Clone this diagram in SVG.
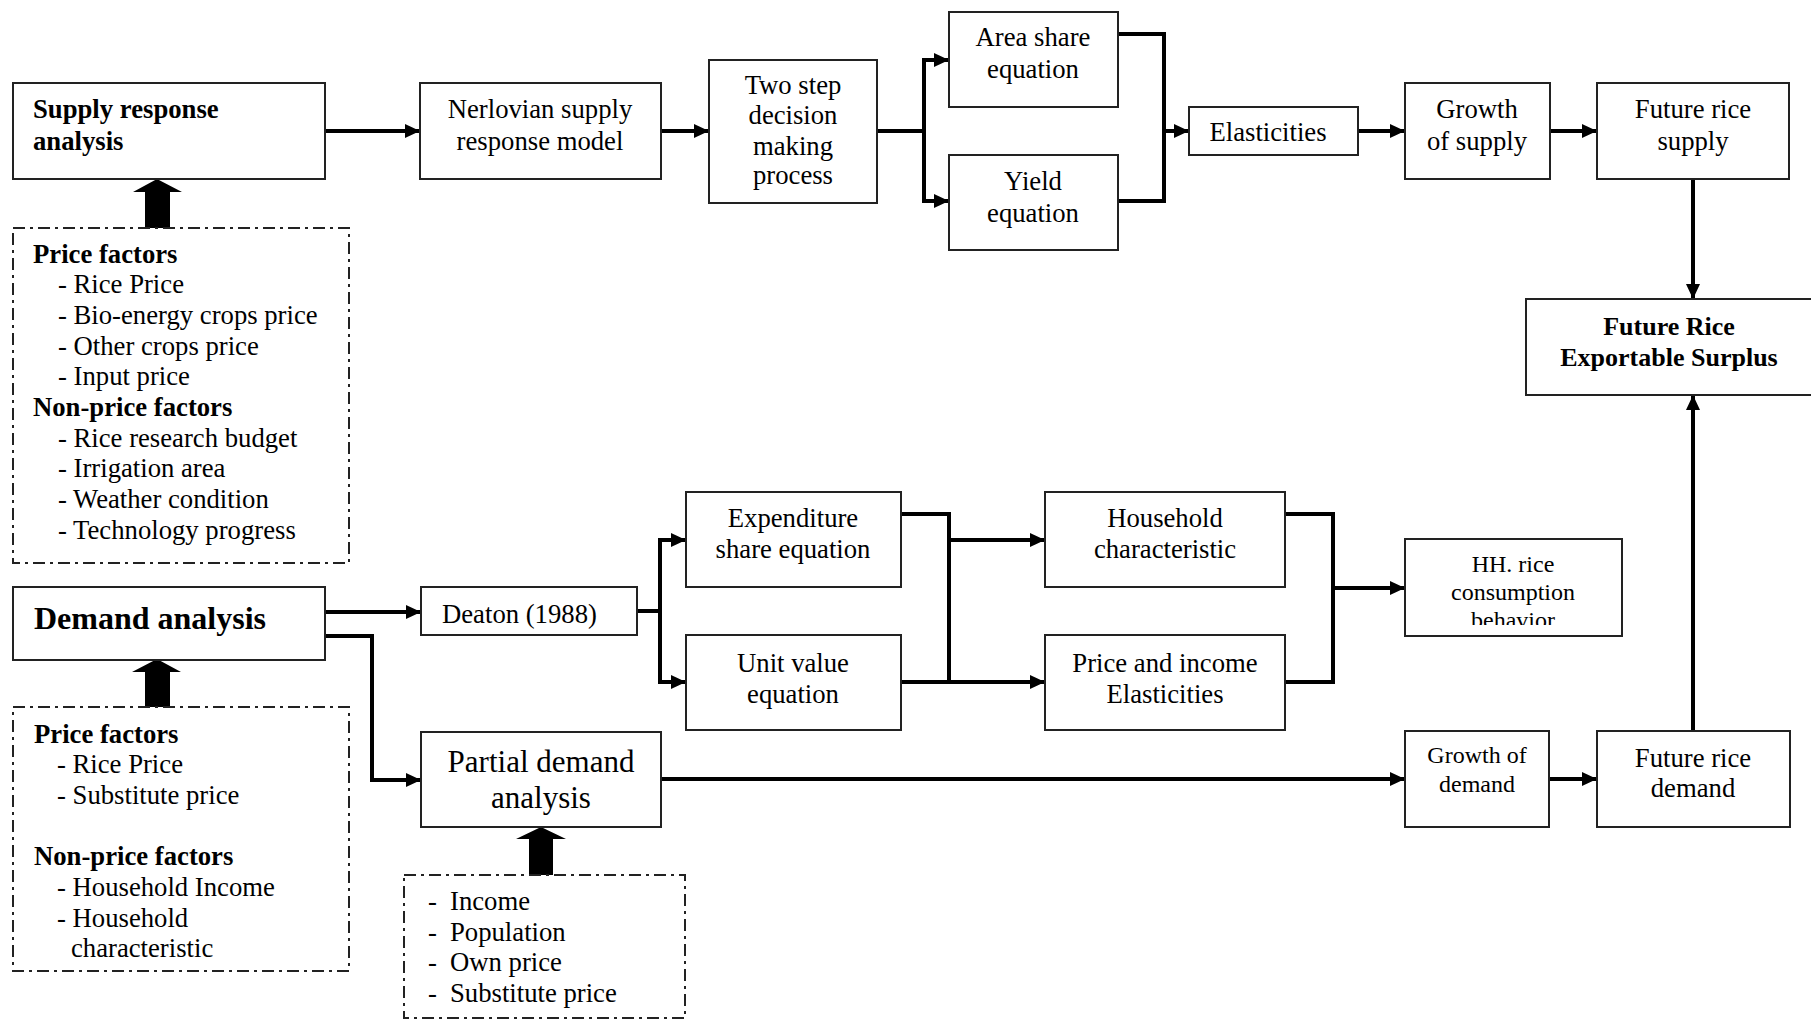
<svg xmlns="http://www.w3.org/2000/svg" width="1811" height="1020" viewBox="0 0 1811 1020">
<style>
text{font-family:"Liberation Serif","Times New Roman",serif;font-size:26.7px;fill:#000}
.c{text-anchor:middle}
.b{font-weight:bold}
.s24{font-size:24px}
.s26{font-size:26px}
.big{font-size:31px}
.box{fill:#fff;stroke:#222;stroke-width:2}
.dash{fill:none;stroke:#222;stroke-width:2;stroke-dasharray:12 5 3 5}
.ln{fill:none;stroke:#000;stroke-width:4;stroke-linejoin:miter}
.thick{fill:#000}
</style>
<defs>
<marker id="ah" markerUnits="userSpaceOnUse" markerWidth="16" markerHeight="16" refX="15" refY="7" orient="auto">
<path d="M0,0 L15,7 L0,14 Z" fill="#000"/>
</marker>
<clipPath id="hhclip"><rect x="1405" y="539" width="218" height="86"/></clipPath>
</defs>

<g id="connectors">
<path class="ln" d="M325,131 H420" marker-end="url(#ah)"/>
<path class="ln" d="M661,131 H709" marker-end="url(#ah)"/>
<path class="ln" d="M877,131 H924"/>
<path class="ln" d="M924,60 V201"/>
<path class="ln" d="M922,60 H949" marker-end="url(#ah)"/>
<path class="ln" d="M922,201 H949" marker-end="url(#ah)"/>
<path class="ln" d="M1118,34 H1164 V201 H1118"/>
<path class="ln" d="M1164,131 H1189" marker-end="url(#ah)"/>
<path class="ln" d="M1358,131 H1405" marker-end="url(#ah)"/>
<path class="ln" d="M1550,131 H1597" marker-end="url(#ah)"/>
<path class="ln" d="M1693,179 V299" marker-end="url(#ah)"/>
<path class="ln" d="M1693,731 V395" marker-end="url(#ah)"/>
<path class="ln" d="M325,612 H421" marker-end="url(#ah)"/>
<path class="ln" d="M325,636 H372 V780 H421" marker-end="url(#ah)"/>
<path class="ln" d="M637,611 H660"/>
<path class="ln" d="M660,540 V682"/>
<path class="ln" d="M658,540 H686" marker-end="url(#ah)"/>
<path class="ln" d="M658,682 H686" marker-end="url(#ah)"/>
<path class="ln" d="M901,514 H949 V682 H901"/>
<path class="ln" d="M949,540 H1045" marker-end="url(#ah)"/>
<path class="ln" d="M949,682 H1045" marker-end="url(#ah)"/>
<path class="ln" d="M1285,514 H1333 V682 H1285"/>
<path class="ln" d="M1333,588 H1405" marker-end="url(#ah)"/>
<path class="ln" d="M661,779 H1405" marker-end="url(#ah)"/>
<path class="ln" d="M1549,779 H1597" marker-end="url(#ah)"/>
<polygon class="thick" points="145,228 145,192 133,192 157,179 182,192 170,192 170,228"/>
<polygon class="thick" points="145,707 145,672 132,672 157,659 181,672 170,672 170,707"/>
<polygon class="thick" points="529,875 529,839 516,839 541,827 566,839 553,839 553,875"/>
</g>

<g id="supply-response">
<rect class="box" x="13" y="83" width="312" height="96"/>
<text class="b" x="33" y="118">Supply response</text>
<text class="b" x="33" y="150">analysis</text>
</g>

<g id="supply-factors">
<rect class="dash" x="13" y="228" width="336" height="335"/>
<text class="b" x="33" y="263">Price factors</text>
<text x="58" y="293">- Rice Price</text>
<text x="58" y="324">- Bio-energy crops price</text>
<text x="58" y="355">- Other crops price</text>
<text x="58" y="385">- Input price</text>
<text class="b" x="33" y="416">Non-price factors</text>
<text x="58" y="447">- Rice research budget</text>
<text x="58" y="477">- Irrigation area</text>
<text x="58" y="508">- Weather condition</text>
<text x="58" y="539">- Technology progress</text>
</g>

<g id="nerlovian">
<rect class="box" x="420" y="83" width="241" height="96"/>
<text class="c" x="540" y="118">Nerlovian supply</text>
<text class="c" x="540" y="150">response model</text>
</g>

<g id="two-step">
<rect class="box" x="709" y="60" width="168" height="143"/>
<text class="c" x="793" y="94">Two step</text>
<text class="c" x="793" y="124">decision</text>
<text class="c" x="793" y="155">making</text>
<text class="c" x="793" y="184">process</text>
</g>

<g id="area-share">
<rect class="box" x="949" y="12" width="169" height="95"/>
<text class="c" x="1033" y="46">Area share</text>
<text class="c" x="1033" y="78">equation</text>
</g>

<g id="yield">
<rect class="box" x="949" y="155" width="169" height="95"/>
<text class="c" x="1033" y="190">Yield</text>
<text class="c" x="1033" y="222">equation</text>
</g>

<g id="elasticities">
<rect class="box" x="1189" y="107" width="169" height="48"/>
<text class="c" x="1268" y="141">Elasticities</text>
</g>

<g id="growth-supply">
<rect class="box" x="1405" y="83" width="145" height="96"/>
<text class="c" x="1477" y="118">Growth</text>
<text class="c" x="1477" y="150">of supply</text>
</g>

<g id="future-supply">
<rect class="box" x="1597" y="83" width="192" height="96"/>
<text class="c" x="1693" y="118">Future rice</text>
<text class="c" x="1693" y="150">supply</text>
</g>

<g id="exportable-surplus">
<rect class="box" x="1526" y="299" width="290" height="96"/>
<text class="c b s26" x="1669" y="335">Future Rice</text>
<text class="c b s26" x="1669" y="366">Exportable Surplus</text>
</g>

<g id="demand-analysis">
<rect class="box" x="13" y="587" width="312" height="73"/>
<text class="b" x="34" y="629" style="font-size:32px">Demand analysis</text>
</g>

<g id="demand-factors">
<rect class="dash" x="13" y="707" width="336" height="264"/>
<text class="b" x="34" y="743">Price factors</text>
<text x="57" y="773">- Rice Price</text>
<text x="57" y="804">- Substitute price</text>
<text class="b" x="34" y="865">Non-price factors</text>
<text x="57" y="896">- Household Income</text>
<text x="57" y="927">- Household</text>
<text x="71" y="957">characteristic</text>
</g>

<g id="deaton">
<rect class="box" x="421" y="587" width="216" height="48"/>
<text x="442" y="623">Deaton (1988)</text>
</g>

<g id="expenditure">
<rect class="box" x="686" y="492" width="215" height="95"/>
<text class="c" x="793" y="527">Expenditure</text>
<text class="c" x="793" y="558">share equation</text>
</g>

<g id="unit-value">
<rect class="box" x="686" y="635" width="215" height="95"/>
<text class="c" x="793" y="672">Unit value</text>
<text class="c" x="793" y="703">equation</text>
</g>

<g id="household">
<rect class="box" x="1045" y="492" width="240" height="95"/>
<text class="c" x="1165" y="527">Household</text>
<text class="c" x="1165" y="558">characteristic</text>
</g>

<g id="price-income">
<rect class="box" x="1045" y="635" width="240" height="95"/>
<text class="c" x="1165" y="672">Price and income</text>
<text class="c" x="1165" y="703">Elasticities</text>
</g>

<g id="hh-rice">
<rect class="box" x="1405" y="539" width="217" height="97"/>
<g clip-path="url(#hhclip)">
<text class="c s24" x="1513" y="572">HH. rice</text>
<text class="c s24" x="1513" y="600">consumption</text>
<text class="c s24" x="1513" y="628">behavior</text>
</g>
</g>

<g id="partial-demand">
<rect class="box" x="421" y="732" width="240" height="95"/>
<text class="c big" x="541" y="772">Partial demand</text>
<text class="c big" x="541" y="808">analysis</text>
</g>

<g id="partial-inputs">
<rect class="dash" x="404" y="875" width="281" height="143"/>
<text x="428" y="910">-<tspan x="450">Income</tspan></text>
<text x="428" y="941">-<tspan x="450">Population</tspan></text>
<text x="428" y="971">-<tspan x="450">Own price</tspan></text>
<text x="428" y="1002">-<tspan x="450">Substitute price</tspan></text>
</g>

<g id="growth-demand">
<rect class="box" x="1405" y="731" width="144" height="96"/>
<text class="c s24" x="1477" y="763">Growth of</text>
<text class="c s24" x="1477" y="792">demand</text>
</g>

<g id="future-demand">
<rect class="box" x="1597" y="731" width="193" height="96"/>
<text class="c" x="1693" y="767">Future rice</text>
<text class="c" x="1693" y="797">demand</text>
</g>
</svg>
